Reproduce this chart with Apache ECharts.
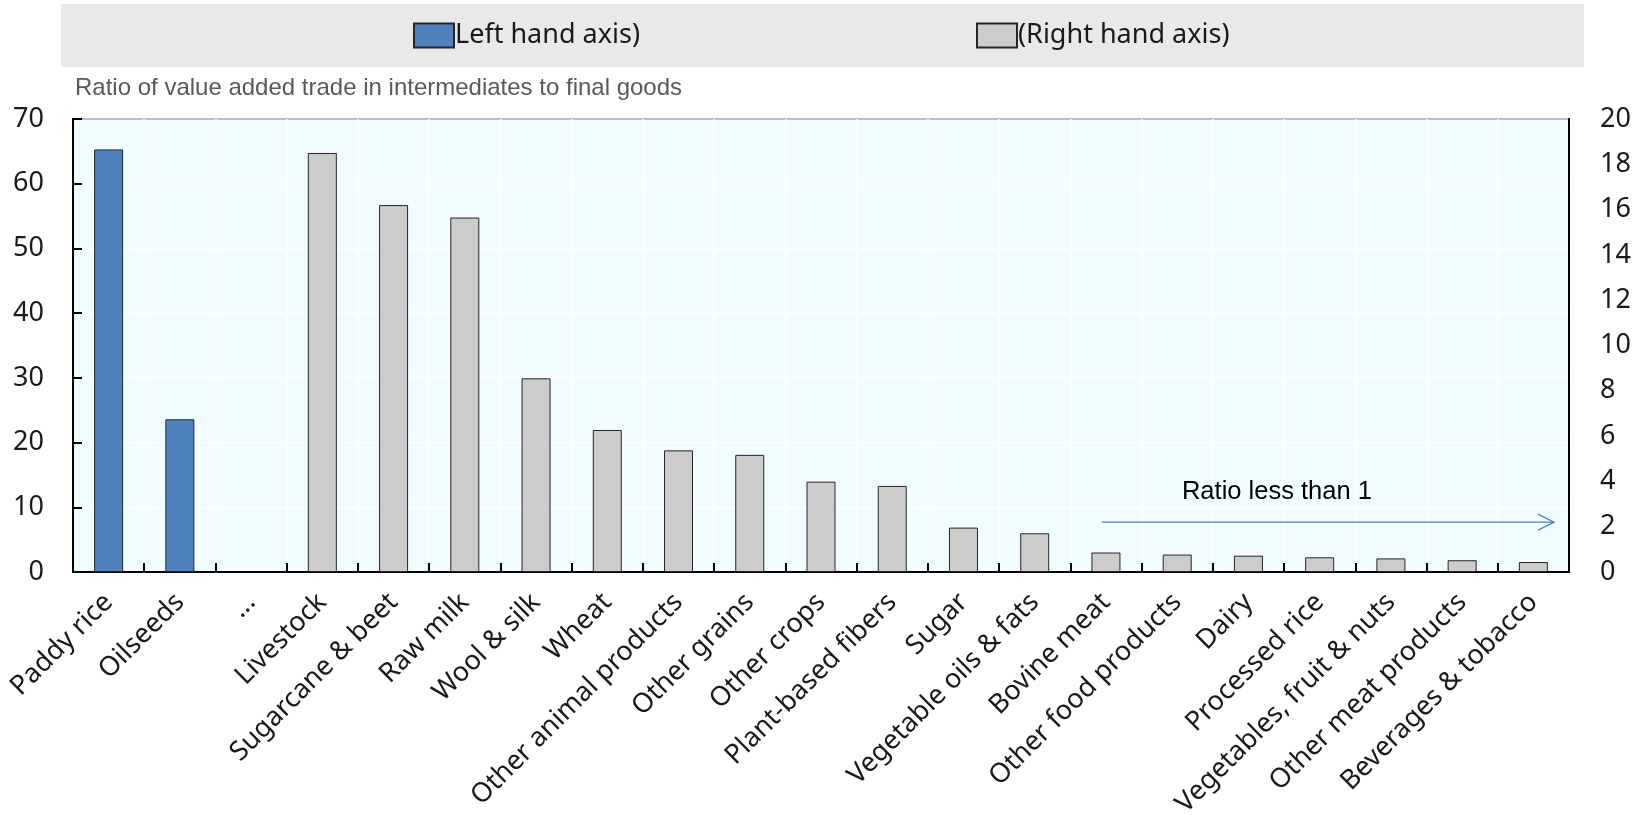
<!DOCTYPE html>
<html>
<head>
<meta charset="utf-8">
<title>Ratio of value added trade in intermediates to final goods</title>
<script src="https://cdn.jsdelivr.net/npm/echarts@6.0.0/dist/echarts.min.js"></script>
<style>
  html, body { margin: 0; padding: 0; background: #ffffff; }
  #chart { width: 1649px; height: 815px; }
</style>
</head>
<body>
<div id="chart"></div>
<script>
// Sectors, ordered by ratio
const categories = [
  'Paddy rice', 'Oilseeds', '...', 'Livestock', 'Sugarcane & beet', 'Raw milk',
  'Wool & silk', 'Wheat', 'Other animal products', 'Other grains', 'Other crops',
  'Plant-based fibers', 'Sugar', 'Vegetable oils & fats', 'Bovine meat',
  'Other food products', 'Dairy', 'Processed rice', 'Vegetables, fruit & nuts',
  'Other meat products', 'Beverages & tobacco'
];

// Ratios read on the left hand axis
const leftAxisValues = [
  65.3, 23.6, '-', '-', '-', '-', '-', '-', '-', '-', '-',
  '-', '-', '-', '-', '-', '-', '-', '-', '-', '-'
];

// Ratios read on the right hand axis
const rightAxisValues = [
  '-', '-', '-', 18.5, 16.2, 15.65, 8.55, 6.27, 5.37, 5.17, 3.99,
  3.80, 1.96, 1.71, 0.86, 0.77, 0.72, 0.65, 0.60, 0.52, 0.44
];

const leftTicks = { min: 0, max: 70, interval: 10 };
const rightTicks = { min: 0, max: 20, interval: 2 };

const seriesNames = ['(Left hand axis)', '(Right hand axis)'];
const legendLabels = ['Left hand axis)', '(Right hand axis)'];

const subtitle = 'Ratio of value added trade in intermediates to final goods';
const noteText = 'Ratio less than 1';
// Note placement in category units (0 = left edge of first band) and right-axis units
const noteArrow = { from: 14.44, to: 20.79, level: 2.2 };
const noteLabel = { at: 16.9, level: 3.55 };

const BLUE = '#4F81BD';
const GREY = '#CCCCCC';
const EDGE = '#262626';
const NUM_FONT = '"Noto Sans", "Open Sans", sans-serif';
const ARIAL = '"Liberation Sans", Arial, sans-serif';

const chart = echarts.init(document.getElementById('chart'), null, { renderer: 'canvas' });

const legendCommon = {
  top: 22,
  padding: 0,
  icon: 'rect',
  itemWidth: 40,
  itemHeight: 24,
  itemGap: 4,
  selectedMode: false,
  textStyle: { fontFamily: NUM_FONT, fontSize: 27, color: '#1a1a1a', padding: [0, 0, 0, -4] }
};

const bandRect = {
  type: 'rect',
  z: -10,
  silent: true,
  shape: { x: 61, y: 4, width: 1523, height: 63 },
  style: { fill: '#E9E9E9' }
};

chart.setOption({
  animation: false,
  backgroundColor: '#ffffff',
  graphic: [bandRect],
  title: {
    text: subtitle,
    left: 75,
    top: 76,
    padding: 0,
    textStyle: { fontFamily: ARIAL, fontSize: 24, fontWeight: 'normal', color: '#595959' }
  },
  legend: [
    Object.assign({}, legendCommon, {
      left: 413,
      data: [seriesNames[0]],
      formatter: () => legendLabels[0]
    }),
    Object.assign({}, legendCommon, {
      left: 976,
      data: [seriesNames[1]],
      formatter: () => legendLabels[1]
    })
  ],
  grid: {
    left: 73,
    right: 80,
    top: 119,
    bottom: 243,
    show: true,
    backgroundColor: '#F0FCFE',
    borderColor: '#000000',
    borderWidth: 2,
    containLabel: false,
    outerBoundsMode: 'none'
  },
  xAxis: {
    type: 'category',
    data: categories,
    boundaryGap: true,
    axisLine: { show: true, lineStyle: { color: '#000000', width: 2 } },
    axisTick: { show: true, inside: true, length: 9, interval: 0, lineStyle: { color: '#000000', width: 2 } },
    splitLine: { show: true, interval: 0, lineStyle: { color: '#ffffff', width: 1.5 } },
    axisLabel: {
      interval: 0,
      rotate: 45,
      margin: 26,
      fontFamily: NUM_FONT,
      fontSize: 27,
      color: '#1a1a1a'
    }
  },
  yAxis: [
    {
      type: 'value',
      position: 'left',
      min: leftTicks.min,
      max: leftTicks.max,
      interval: leftTicks.interval,
      axisLine: { show: true, lineStyle: { color: '#000000', width: 2 } },
      axisTick: { show: true, inside: true, length: 9, lineStyle: { color: '#000000', width: 2 } },
      splitLine: { show: true, lineStyle: { color: '#ffffff', width: 1.5 } },
      axisLabel: { margin: 29, fontFamily: NUM_FONT, fontSize: 27, color: '#1a1a1a' }
    },
    {
      type: 'value',
      position: 'right',
      min: rightTicks.min,
      max: rightTicks.max,
      interval: rightTicks.interval,
      axisLine: { show: true, lineStyle: { color: '#000000', width: 2 } },
      axisTick: { show: false },
      splitLine: { show: false },
      axisLabel: { margin: 31, fontFamily: NUM_FONT, fontSize: 27, color: '#1a1a1a' }
    }
  ],
  series: [
    {
      name: seriesNames[0],
      type: 'bar',
      yAxisIndex: 0,
      data: leftAxisValues,
      barWidth: 29,
      barGap: '-100%',
      itemStyle: { color: BLUE, borderColor: EDGE, borderWidth: 1 }
    },
    {
      name: seriesNames[1],
      type: 'bar',
      yAxisIndex: 1,
      data: rightAxisValues,
      barWidth: 29,
      barGap: '-100%',
      itemStyle: { color: GREY, borderColor: EDGE, borderWidth: 1 }
    }
  ]
});

// Convert a position in category units / right-axis units to pixels
function toPixel(u, v) {
  const c0 = chart.convertToPixel({ xAxisIndex: 0, yAxisIndex: 1 }, [categories[0], v]);
  const c1 = chart.convertToPixel({ xAxisIndex: 0, yAxisIndex: 1 }, [categories[1], v]);
  const band = c1[0] - c0[0];
  return [c0[0] + (u - 0.5) * band, c0[1]];
}

const a0 = toPixel(noteArrow.from, noteArrow.level);
const a1 = toPixel(noteArrow.to, noteArrow.level);
const lp = toPixel(noteLabel.at, noteLabel.level);

chart.setOption({
  graphic: [
    bandRect,
    {
      type: 'line',
      z: 50,
      silent: true,
      shape: { x1: a0[0], y1: a0[1], x2: a1[0], y2: a1[1] },
      style: { stroke: BLUE, lineWidth: 1.3 }
    },
    {
      type: 'polyline',
      z: 50,
      silent: true,
      shape: { points: [[a1[0] - 16, a1[1] - 8], [a1[0], a1[1]], [a1[0] - 16, a1[1] + 8]] },
      style: { stroke: BLUE, lineWidth: 1.3, fill: null }
    },
    {
      type: 'text',
      z: 50,
      silent: true,
      x: lp[0],
      y: lp[1],
      style: {
        text: noteText,
        fontFamily: ARIAL,
        fontSize: 25.5,
        fill: '#000000',
        align: 'center',
        verticalAlign: 'middle'
      }
    }
  ]
});
</script>
</body>
</html>
